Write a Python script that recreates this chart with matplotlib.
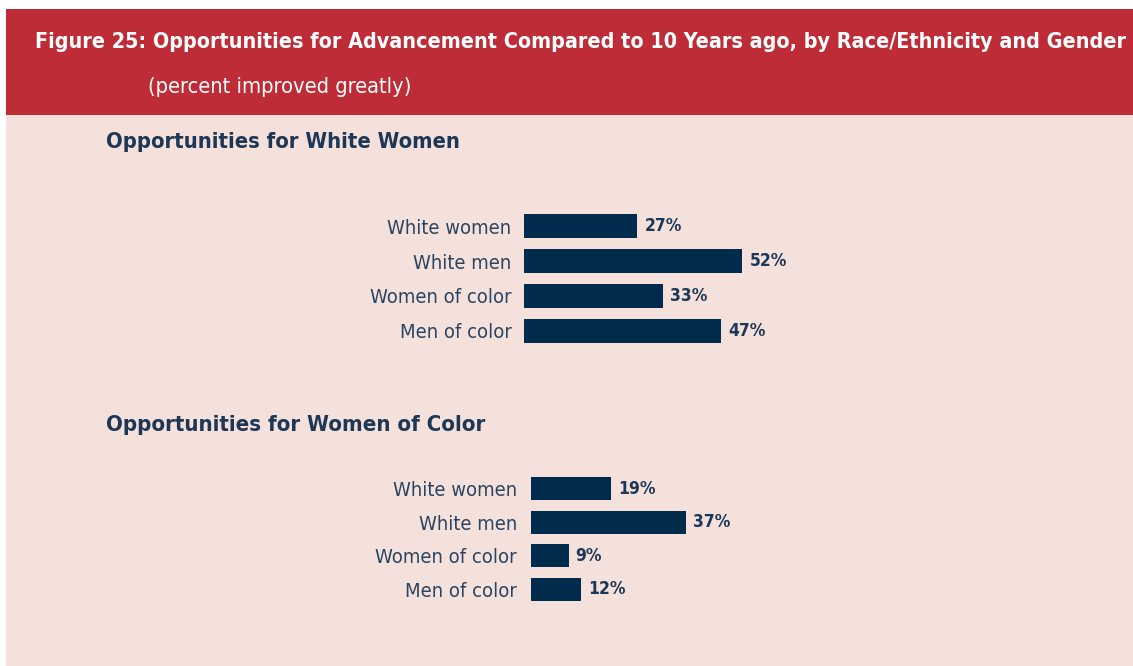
import matplotlib.pyplot as plt
from matplotlib.patches import Rectangle

# data
groups = ['White women', 'White men', 'Women of color', 'Men of color']
white_women_opps = [27, 52, 33, 47]
women_color_opps = [19, 37, 9, 12]

title = 'Figure 25: Opportunities for Advancement Compared to 10 Years ago, by Race/Ethnicity and Gender'
subtitle = '(percent improved greatly)'
panel_titles = ['Opportunities for White Women', 'Opportunities for Women of Color']

red = '#BE2D37'
pink = '#F5E1DC'
navy = '#002B4C'
text_navy = '#1E3756'
label_col = '#2B4561'

plt.rcParams['font.family'] = 'DejaVu Sans'
plt.rcParams['font.stretch'] = 'condensed'

W, H = 1133, 666
fig = plt.figure(figsize=(W / 100, H / 100), dpi=100)
fig.patch.set_facecolor('white')
renderer = fig.canvas.get_renderer()


def px(x, y, w, h):
    # pixel box (from top-left) -> figure fraction
    return [x / W, 1 - (y + h) / H, w / W, h / H]


def fit(t, width):
    # shrink/grow a text so it spans about `width` pixels
    w = t.get_window_extent(renderer).width
    t.set_fontsize(t.get_fontsize() * width / w)


bg = fig.add_axes([0, 0, 1, 1])
bg.set_xlim(0, W)
bg.set_ylim(H, 0)
bg.axis('off')
bg.add_patch(Rectangle((6, 9), W - 6, 106, color=red, lw=0))
bg.add_patch(Rectangle((6, 115), W - 6, H - 115, color=pink, lw=0))
t = bg.text(35, 42, title, color='white', fontsize=16, fontweight='bold', va='center', ha='left')
fit(t, 1088)
t = bg.text(148, 87, subtitle, color='white', fontsize=16, va='center', ha='left')
fit(t, 266)
t = bg.text(106, 142, panel_titles[0], color=text_navy, fontsize=16, fontweight='bold', va='center')
fit(t, 355)
t = bg.text(106, 425, panel_titles[1], color=text_navy, fontsize=16, fontweight='bold', va='center')
fit(t, 381)


def panel(box, vals, pad):
    ax = fig.add_axes(px(*box))
    ax.set_facecolor('none')
    ypos = range(len(vals))
    ax.barh(ypos, vals, height=0.69, color=navy)
    ax.set_xlim(0, 100)
    ax.set_ylim(len(vals) - 0.5, -0.5)
    ax.set_yticks(list(ypos))
    ax.set_yticklabels(groups, fontsize=14.5, color=label_col)
    ax.tick_params(axis='y', length=0, pad=pad)
    ax.set_xticks([])
    for s in ax.spines.values():
        s.set_visible(False)
    for y, v in zip(ypos, vals):
        ax.annotate(f'{v}%', (v, y), xytext=(5, 0), textcoords='offset points',
                    va='center', ha='left', fontsize=12.5, fontweight='bold', color=text_navy)
    return ax


panel((524, 209, 420, 139), white_women_opps, 9)
panel((531, 472, 420, 134), women_color_opps, 10)

fig.savefig('out.png', dpi=100, facecolor=fig.get_facecolor())
